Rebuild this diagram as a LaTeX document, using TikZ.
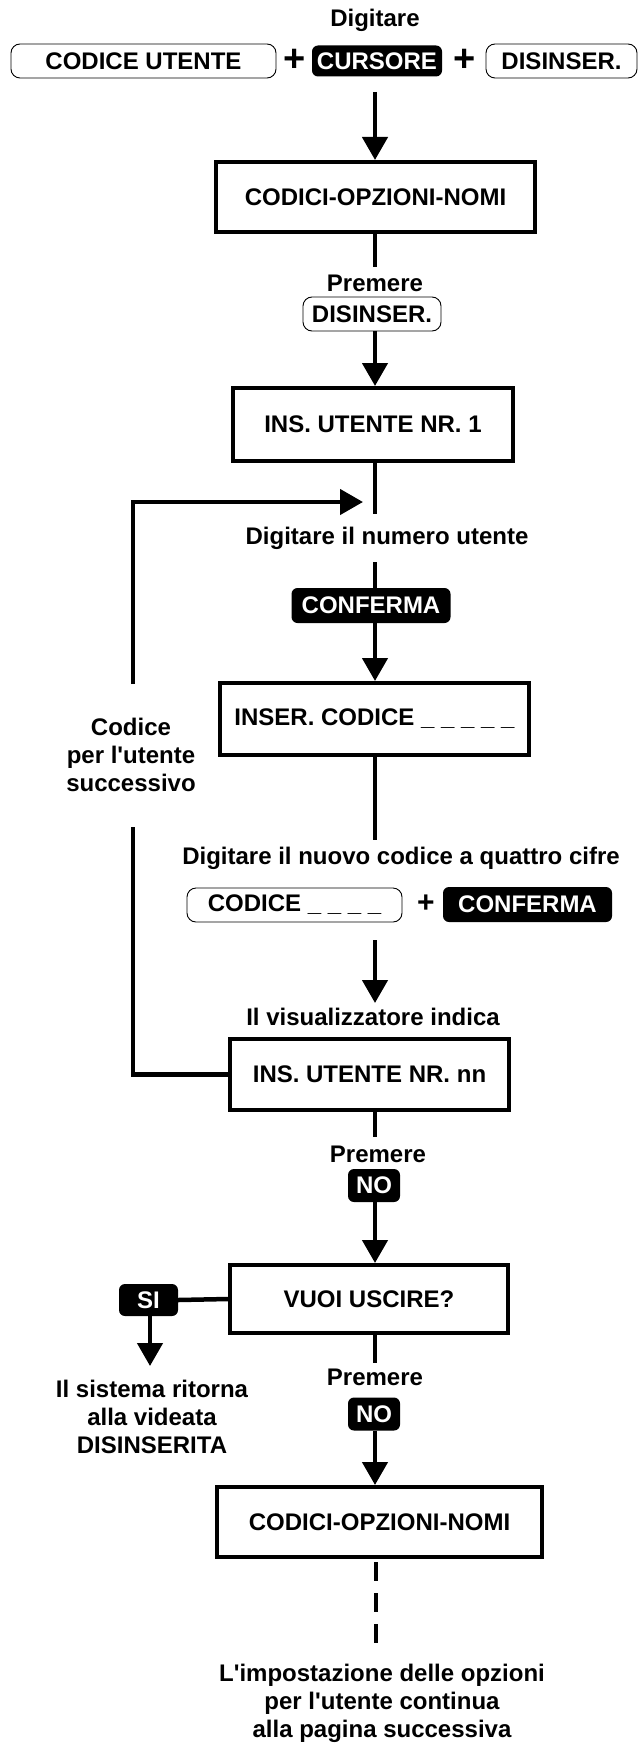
\documentclass[tikz,border=0pt]{standalone}
\usepackage{fontspec}
\setmainfont{Liberation Sans}
\usetikzlibrary{arrows.meta}
\begin{document}
\begin{tikzpicture}[x=1pt,y=-1pt,
  every node/.style={font=\fontsize{24}{28}\selectfont\bfseries, inner sep=0pt},
  screen/.style={draw, line width=4pt, minimum height=70pt},
  keyw/.style={draw, line width=0.9pt, rounded corners=9pt, minimum height=34pt},
  keyb/.style={fill=black, text=white, rounded corners=6pt, minimum height=33pt},
  lbl/.style={align=center},
  bigplus/.style={font=\fontsize{38}{38}\selectfont\bfseries},
  midplus/.style={font=\fontsize{30}{30}\selectfont\bfseries},
  conn/.style={line width=4.5pt},
  arr/.style={line width=4.5pt, -{Triangle[width=25pt,length=23pt]}},
  dashline/.style={line width=4.5pt, dash pattern=on 19pt off 12pt},
]
\useasboundingbox (0,0) rectangle (643,1744);

% top row
\node (dig) at (375,20) {Digitare};
\node[keyw, minimum width=265pt] (kcod) at (143.5,61) {CODICE UTENTE};
\node[bigplus] (p1) at (295,60) {+};
\node[keyb, minimum width=130pt, minimum height=31pt] (kcur) at (377,61) {CURSORE};
\node[bigplus] (p2) at (465,60) {+};
\node[keyw, minimum width=151pt] (kdis) at (561.5,61) {DISINSER.};

\node[screen, minimum width=319pt] (s1) at (375.5,197) {CODICI-OPZIONI-NOMI};
\node (prem1) at (375,283) {Premere};
\node[keyw, minimum width=138pt] (kdis2) at (372,314) {DISINSER.};
\node[screen, minimum width=280pt, minimum height=73pt] (s2) at (373,424.5) {INS. UTENTE NR. 1};

\node (dnum) at (387,538) {Digitare il numero utente};
\node[keyb, minimum width=159pt, minimum height=35pt] (conf1) at (371,605.5) {CONFERMA};
\node[screen, minimum width=309pt, minimum height=72pt] (s3) at (374.5,719) {INSER. CODICE \_ \_ \_ \_ \_};

\node[lbl] (cod) at (131,755) {Codice\\per l\textquotesingle utente\\successivo};

\node (dnuovo) at (401,858) {Digitare il nuovo codice a quattro cifre};
\node[keyw, minimum width=215pt] (kc) at (294.5,905) {CODICE \_ \_ \_ \_};
\node[midplus] (p3) at (426,904) {+};
\node[keyb, minimum width=169pt, minimum height=35pt] (conf2) at (527.5,904.5) {CONFERMA};

\node (vis) at (373,1017) {Il visualizzatore indica};
\node[screen, minimum width=279pt, minimum height=71pt] (s4) at (369.5,1074.5) {INS. UTENTE NR. nn};

\node (prem2) at (378,1154) {Premere};
\node[keyb, minimum width=52pt] (no1) at (374,1185.5) {NO};
\node[screen, minimum width=278pt, minimum height=68pt] (s5) at (369,1299) {VUOI USCIRE?};
\node[keyb, minimum width=59pt, minimum height=32pt] (si) at (148.5,1300) {SI};
\node[lbl] (sist) at (152,1417) {Il sistema ritorna\\alla videata\\DISINSERITA};

\node (prem3) at (375,1377) {Premere};
\node[keyb, minimum width=52pt] (no2) at (374,1414) {NO};
\node[screen, minimum width=325pt] (s6) at (379.5,1522) {CODICI-OPZIONI-NOMI};
\node[lbl] (fine) at (382,1703) {L\textquotesingle impostazione delle opzioni\\per l\textquotesingle utente continua\\alla pagina successiva};

% free ends
\coordinate (a1) at (375,92);
\coordinate (e2) at (375,267);
\coordinate (j1) at (375,514);
\coordinate (lt) at (133,502);
\coordinate (lb) at (133,684);
\coordinate (lp) at (363,502);
\coordinate (lt2) at (133,827);
\coordinate (c2) at (375,562);
\coordinate (c3) at (375,840);
\coordinate (c4) at (375,940);
\coordinate (c4b) at (375,1003);
\coordinate (c5) at (375,1137);
\coordinate (c6) at (375,1363);
\coordinate (sa) at (150,1366);
\coordinate (d0) at (376,1562);
\coordinate (d1) at (376,1645);

% connectors
\draw[arr] (a1) -- (a1 |- s1.north);
\draw[conn] (a1 |- s1.south) -- (e2);
\draw[arr] (a1 |- kdis2.south) -- (a1 |- s2.north);
\draw[conn] (a1 |- s2.south) -- (j1);
\draw[arr, line join=miter] (lb) -- (lt) -- (lp);
\draw[conn, line join=miter] (lt2) -- (lt2 |- s4.west) -- (s4.west);
\draw[conn] (c2) -- (c2 |- conf1.north);
\draw[arr] (c2 |- conf1.south) -- (c2 |- s3.north);
\draw[conn] (c2 |- s3.south) -- (c3);
\draw[arr] (c4) -- (c4b);
\draw[conn] (a1 |- s4.south) -- (c5);
\draw[arr] (a1 |- no1.south) -- (a1 |- s5.north);
\draw[conn] (si.east) -- (s5.west);
\draw[arr] (sa |- si.south) -- (sa);
\draw[conn] (a1 |- s5.south) -- (c6);
\draw[arr] (a1 |- no2.south) -- (a1 |- s6.north);
\draw[dashline] (d0) -- (d1);
\end{tikzpicture}
\end{document}
